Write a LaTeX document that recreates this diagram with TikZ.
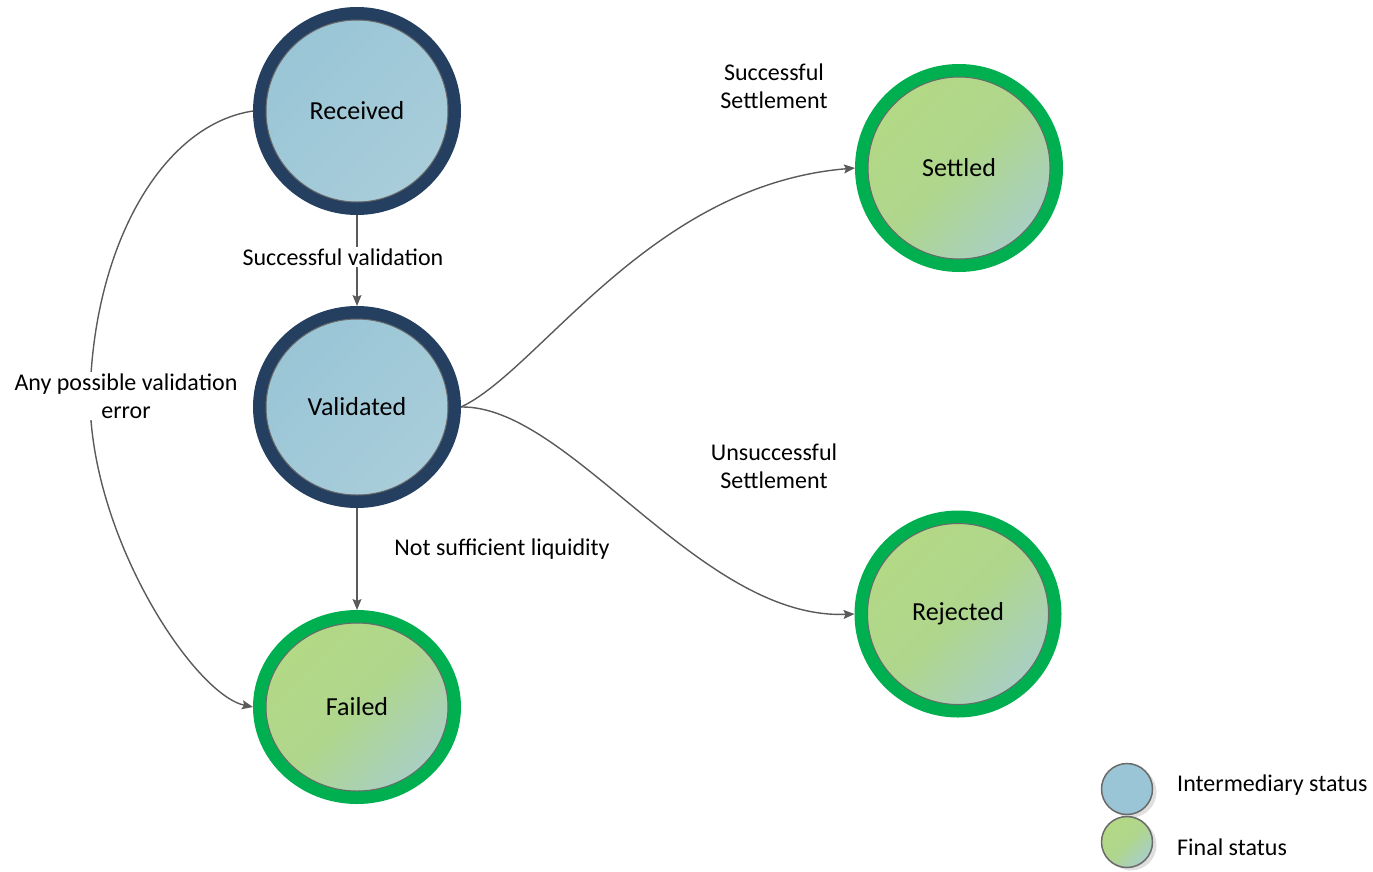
\documentclass[tikz,border=0pt]{standalone}
\usepackage{fontspec}
\setmainfont{Carlito}
\usetikzlibrary{arrows.meta,shapes.geometric,shadows}
\definecolor{ringblue}{HTML}{243F60}
\definecolor{ringgreen}{HTML}{00B050}
\definecolor{fillblueA}{HTML}{99C5D6}
\definecolor{fillblueB}{HTML}{A9CDDA}
\definecolor{fillgreenA}{HTML}{B3D985}
\definecolor{fillgreenM}{HTML}{AFD68C}
\definecolor{fillgreenB}{HTML}{A8CFC6}
\definecolor{edgegray}{HTML}{5A5A5A}
\definecolor{innergray}{HTML}{6A6A6A}
\begin{document}
\begin{tikzpicture}[x=1pt,y=-1pt,
  state/.style={ellipse, inner sep=0pt, line width=13pt, font=\fontsize{26}{31}\selectfont},
  inter/.style={state, draw=ringblue, top color=fillblueA, bottom color=fillblueB, shading angle=45},
  final/.style={state, draw=ringgreen, top color=fillgreenA, bottom color=fillgreenB, middle color=fillgreenM, shading angle=45},
  innerring/.style={draw=innergray, line width=1pt},
  conn/.style={draw=edgegray, line width=1.4pt, -{Stealth[length=11pt,width=9pt,inset=2pt]}},
  lbl/.style={fill=white, inner sep=2pt, align=center, font=\fontsize{24}{28}\selectfont},
  legcircle/.style={circle, minimum size=51pt, inner sep=0pt, draw=innergray, line width=1.5pt,
    drop shadow={shadow xshift=4pt, shadow yshift=-3pt, fill=black!25, opacity=0.5}},
  legtext/.style={anchor=west, inner sep=0pt, font=\fontsize{24}{28}\selectfont}
]
\useasboundingbox (0,0) rectangle (1373,871);

% states
\node[inter, minimum width=195pt, minimum height=195pt] (rec) at (357,111) {Received};
\node[inter, minimum width=195pt, minimum height=189pt] (val) at (357,407) {Validated};
\node[final, minimum width=195pt, minimum height=181pt] (fail) at (357,707) {Failed};
\node[final, minimum width=195pt, minimum height=195pt] (set) at (959,168) {Settled};
\node[final, minimum width=194pt, minimum height=194pt] (rej) at (958,614) {Rejected};

\draw[innerring] (rec.center) ellipse [x radius=91pt, y radius=91pt];
\draw[innerring] (val.center) ellipse [x radius=91pt, y radius=88pt];
\draw[innerring] (fail.center) ellipse [x radius=91pt, y radius=84pt];
\draw[innerring] (set.center) ellipse [x radius=91pt, y radius=91pt];
\draw[innerring] (rej.center) ellipse [x radius=90.5pt, y radius=90.5pt];

% connectors
\draw[conn] (rec.south) -- (val.north);
\draw[conn] (val.south) -- (fail.north);
\draw[conn] (rec.west) .. controls (160,125) and (92,250) .. (90,400)
                       .. controls (92,540) and (195,695) .. (fail.west);
\draw[conn] (val.east) .. controls (540,370) and (650,185) .. (set.west);
\draw[conn] (val.east) .. controls (570,405) and (700,620) .. (rej.west);

% labels
\node[lbl] (lv) at (343,257) {Successful validation};
\node[lbl] (le) at (126,396) {Any possible validation\\error};
\node[lbl] (ls) at (774,86) {Successful\\Settlement};
\node[lbl] (lu) at (774,466) {Unsuccessful\\Settlement};
\node[lbl] (ll) at (502,549) {Not sufficient liquidity};

% legend
\node[legcircle, fill=fillblueA] (lg1) at (1127,789) {};
\node[legcircle, top color=fillgreenA, bottom color=fillgreenB, middle color=fillgreenM, shading angle=45] (lg2) at (1127,842) {};
\node[legtext] (lt1) at (1177,785) {Intermediary status};
\node[legtext] (lt2) at (1177,847) {Final status};
\end{tikzpicture}
\end{document}
